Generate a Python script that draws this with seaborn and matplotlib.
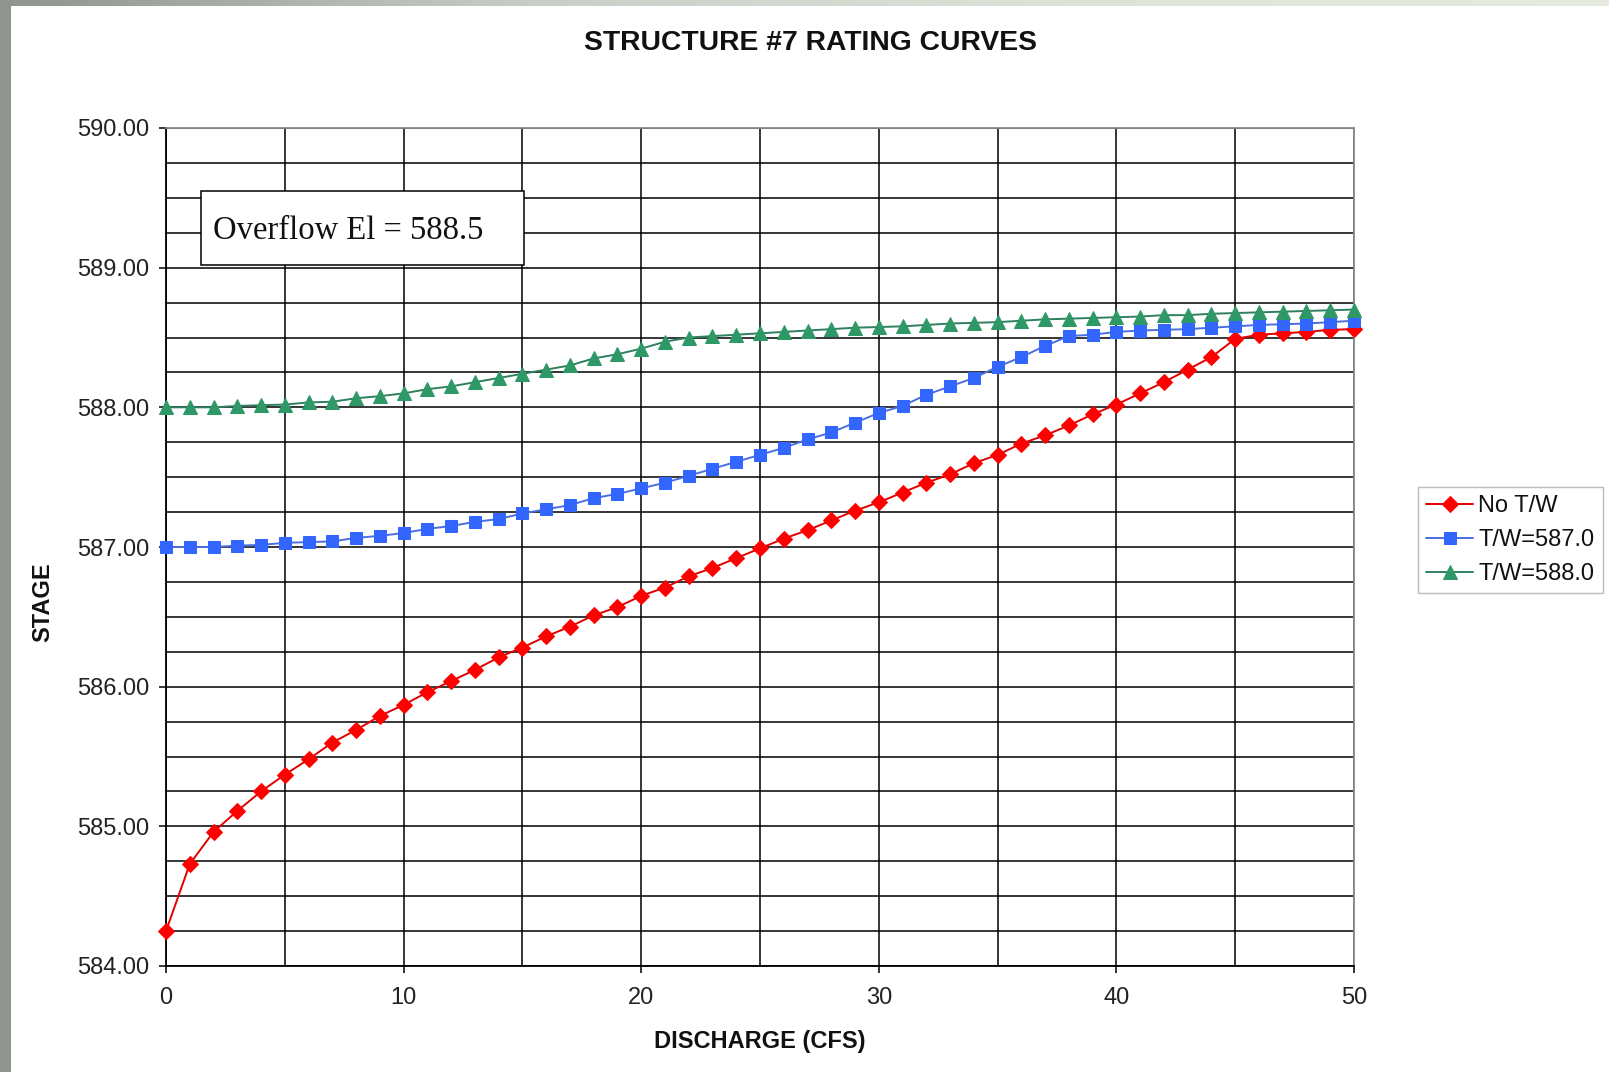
import numpy as np
import pandas as pd
import matplotlib
matplotlib.use("Agg")
import matplotlib.pyplot as plt
from matplotlib.ticker import MultipleLocator, FormatStrFormatter
from matplotlib.patches import Rectangle
from matplotlib.colors import LinearSegmentedColormap
import seaborn as sns

# ---- data ----
discharge = list(range(0, 51))
no_tw = [584.25, 584.73, 584.96, 585.11, 585.25, 585.37, 585.48, 585.60, 585.69, 585.79,
         585.87, 585.96, 586.04, 586.12, 586.21, 586.28, 586.36, 586.43, 586.51, 586.57,
         586.65, 586.71, 586.79, 586.85, 586.92, 586.99, 587.06, 587.12, 587.19, 587.26,
         587.32, 587.39, 587.46, 587.52, 587.60, 587.66, 587.74, 587.80, 587.87, 587.95,
         588.02, 588.10, 588.18, 588.27, 588.36, 588.49, 588.52, 588.53, 588.54, 588.555, 588.56]
tw_587 = [587.00, 587.00, 587.00, 587.01, 587.015, 587.03, 587.035, 587.04, 587.065, 587.08,
          587.10, 587.13, 587.15, 587.18, 587.20, 587.24, 587.27, 587.30, 587.35, 587.38,
          587.42, 587.46, 587.51, 587.56, 587.61, 587.66, 587.71, 587.77, 587.82, 587.89,
          587.96, 588.01, 588.09, 588.15, 588.21, 588.29, 588.36, 588.44, 588.51, 588.52,
          588.54, 588.55, 588.555, 588.56, 588.57, 588.58, 588.59, 588.595, 588.60, 588.61, 588.62]
tw_588 = [588.00, 588.00, 588.00, 588.01, 588.015, 588.02, 588.035, 588.04, 588.065, 588.08,
          588.10, 588.13, 588.15, 588.18, 588.21, 588.24, 588.27, 588.30, 588.35, 588.38,
          588.42, 588.47, 588.50, 588.51, 588.52, 588.53, 588.54, 588.55, 588.56, 588.57,
          588.575, 588.58, 588.59, 588.60, 588.605, 588.61, 588.62, 588.63, 588.635, 588.64,
          588.645, 588.65, 588.66, 588.66, 588.67, 588.675, 588.68, 588.685, 588.69, 588.695, 588.70]
series_names = ["No T/W", "T/W=587.0", "T/W=588.0"]
series_colors = ["#FF0000", "#3366FF", "#2E9966"]
line_colors = ["#E00000", "#4A6FE0", "#2E8060"]
series_markers = ["D", "s", "^"]
series_msize = [8, 9, 10]

title = "STRUCTURE #7 RATING CURVES"
xlabel = "DISCHARGE (CFS)"
ylabel = "STAGE"
note = "Overflow El = 588.5"

sns.set_theme(style="white")
plt.rcParams["font.family"] = ["Liberation Sans", "DejaVu Sans"]

W, H = 1609, 1072
fig = plt.figure(figsize=(W / 100, H / 100), dpi=100)
fig.patch.set_facecolor("white")

# slide-like border strips
left_strip = fig.add_axes([0, 0, 11 / W, 1])
left_strip.set_facecolor("#8F948E")
left_strip.set_xticks([]); left_strip.set_yticks([])
for s in left_strip.spines.values():
    s.set_visible(False)
top_strip = fig.add_axes([0, 1 - 6 / H, 1, 6 / H])
grad = np.linspace(0, 1, 256)[None, :]
cmap = LinearSegmentedColormap.from_list("strip", ["#8F948E", "#C9CFC6", "#DDE3D9", "#E6EBE2"])
top_strip.imshow(grad, aspect="auto", cmap=cmap, extent=[0, 1, 0, 1])
top_strip.set_axis_off()

ax = fig.add_axes([166 / W, 1 - 966 / H, 1188 / W, 838 / H])
ax.set_facecolor("white")

df = pd.DataFrame({"Q": discharge, series_names[0]: no_tw,
                   series_names[1]: tw_587, series_names[2]: tw_588})
for name, c, lc, m, ms in zip(series_names, series_colors, line_colors, series_markers, series_msize):
    sns.lineplot(data=df, x="Q", y=name, ax=ax, color=lc, linewidth=1.4,
                 marker=m, markersize=ms, markerfacecolor=c, markeredgecolor=c,
                 label=name, zorder=3, clip_on=False)

ax.set_xlim(0, 50)
ax.set_ylim(584, 590)
ax.xaxis.set_major_locator(MultipleLocator(10))
ax.xaxis.set_minor_locator(MultipleLocator(5))
ax.yaxis.set_major_locator(MultipleLocator(1))
ax.yaxis.set_minor_locator(MultipleLocator(0.25))
ax.yaxis.set_major_formatter(FormatStrFormatter("%.2f"))
ax.grid(True, which="both", color="black", linewidth=1.1, zorder=1)
ax.set_axisbelow(True)
ax.tick_params(axis="both", which="major", direction="out", length=5, width=1.1,
               color="black", labelsize=17, labelcolor="#222222", pad=7,
               left=True, bottom=True)
ax.tick_params(axis="x", which="major", pad=10)
ax.tick_params(which="minor", length=0)
for side in ["left", "bottom"]:
    ax.spines[side].set_color("black")
    ax.spines[side].set_linewidth(1.3)
for side in ["top", "right"]:
    ax.spines[side].set_color("#8A8A8A")
    ax.spines[side].set_linewidth(1.3)

ax.set_xlabel(xlabel, fontsize=17, fontweight="bold", color="#111111")
ax.set_ylabel(ylabel, fontsize=17, fontweight="bold", color="#111111")
ax.xaxis.set_label_coords(0.5, -(1030 - 966) / 838)
ax.yaxis.set_label_coords((54 - 166) / 1188, 1 - (602 - 128) / 838)

fig.text(810 / W, 1 - 43 / H, title, ha="center", va="center",
         fontsize=20.3, fontweight="bold", color="#111111")

# annotation box
box = Rectangle((201 / W, 1 - 265 / H), (524 - 201) / W, (265 - 191) / H,
                transform=fig.transFigure, facecolor="white", edgecolor="black",
                linewidth=1.1, zorder=4)
ax.add_artist(box)
box.set_clip_on(False)
fig.text(213 / W, 1 - 231 / H, note, ha="left", va="center", fontsize=23.5,
         family=["Liberation Serif", "DejaVu Serif"], color="#111111", zorder=5)

leg = ax.legend(loc="upper left", bbox_to_anchor=(1418 / W, 1 - 487 / H),
                bbox_transform=fig.transFigure, frameon=True, fancybox=False,
                edgecolor="#AAAAAA", fontsize=17, handlelength=2.0,
                handletextpad=0.2, borderpad=0.35, labelspacing=0.5, borderaxespad=0)
leg.get_frame().set_linewidth(1.0)
for t in leg.get_texts():
    t.set_color("#111111")

fig.savefig("out.png", dpi=100, facecolor="white")
